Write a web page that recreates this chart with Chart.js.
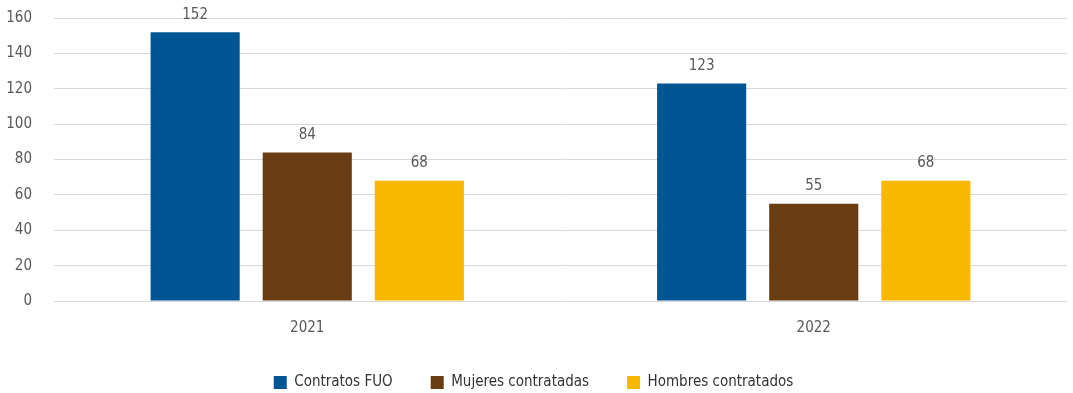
<!DOCTYPE html>
<html>
<head>
<meta charset="utf-8">
<script src="https://cdn.jsdelivr.net/npm/chart.js@4/dist/chart.umd.min.js"></script>
<style>
  html, body { margin: 0; padding: 0; background: #fff; }
  #wrap { width: 1073px; height: 393px; }
</style>
</head>
<body>
<div id="wrap"><canvas id="myChart"></canvas></div>
<script>
  var years = ['2021', '2022'];
  var contratos = [152, 123];
  var mujeres = [84, 55];
  var hombres = [68, 68];

  var fontFam = '"Liberation Sans Narrow", "DejaVu Sans Condensed", "Roboto", sans-serif';
  Chart.defaults.font.family = fontFam;
  Chart.defaults.font.size = 15;
  Chart.defaults.color = '#595959';

  // draws the value above each bar
  var valueLabels = {
    id: 'valueLabels',
    afterDatasetsDraw: function(chart) {
      var ctx = chart.ctx;
      ctx.save();
      ctx.font = '15px ' + fontFam;
      ctx.fillStyle = '#595959';
      ctx.textAlign = 'center';
      ctx.textBaseline = 'bottom';
      chart.data.datasets.forEach(function(ds, i) {
        chart.getDatasetMeta(i).data.forEach(function(bar, j) {
          ctx.fillText(ds.data[j], bar.x, bar.y - 10);
        });
      });
      ctx.restore();
    }
  };

  var ctx = document.getElementById('myChart').getContext('2d');
  var chart = new Chart(ctx, {
    type: 'bar',
    data: {
      labels: years,
      datasets: [
        { label: 'Contratos FUO', data: contratos, backgroundColor: '#005593' },
        { label: 'Mujeres contratadas', data: mujeres, backgroundColor: '#693C13' },
        { label: 'Hombres contratados', data: hombres, backgroundColor: '#F9B800' }
      ]
    },
    options: {
      responsive: true,
      maintainAspectRatio: false,
      animation: false,
      categoryPercentage: 0.664,
      barPercentage: 0.795,
      layout: { padding: { top: 0, right: 6, left: 0, bottom: -7 } },
      scales: {
        x: {
          grid: { display: false },
          border: { display: false },
          ticks: { padding: 10 },
          afterFit: function(scale) { scale.height = scale.height - 10; }
        },
        y: {
          min: 0,
          max: 160,
          ticks: { stepSize: 20, padding: 22 },
          grid: { color: '#D9D9D9', lineWidth: 1, drawTicks: false },
          border: { display: false },
          afterFit: function(scale) {
            scale.width = 54;
            scale.paddingTop = 18;
            scale.paddingBottom = 9;
          }
        }
      },
      plugins: {
        legend: {
          position: 'bottom',
          labels: { boxWidth: 13, boxHeight: 13, padding: 38, color: '#333333' }
        },
        tooltip: { enabled: false }
      }
    },
    plugins: [valueLabels]
  });
</script>
</body>
</html>
